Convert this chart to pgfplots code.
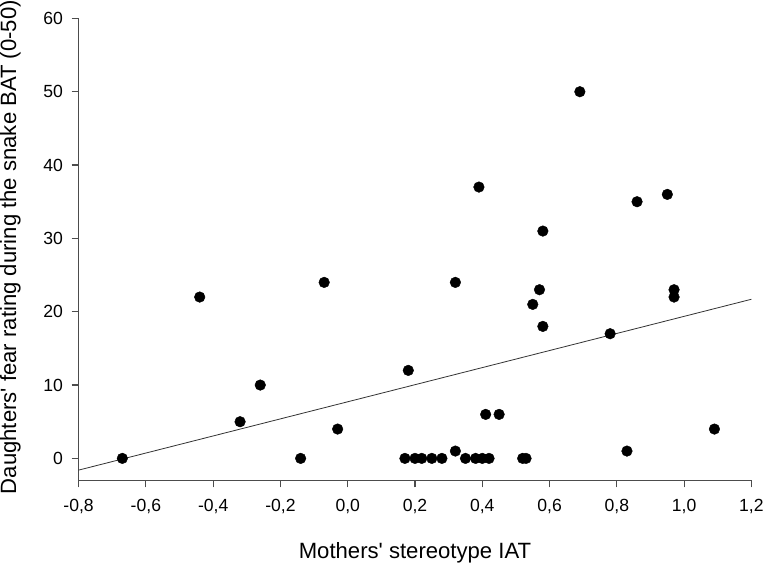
\documentclass[border=0pt]{standalone}
\usepackage{pgfplots}
\pgfplotsset{compat=1.18}
\usepackage{fontspec}
\setmainfont{Liberation Sans}

\pgfplotstableread{
x     y
-0.67 0
-0.44 22
-0.32 5
-0.26 10
-0.14 0
-0.07 24
-0.03 4
0.17  0
0.18  12
0.20  0
0.22  0
0.25  0
0.28  0
0.32  1
0.32  24
0.35  0
0.38  0
0.39  37
0.40  0
0.42  0
0.41  6
0.45  6
0.52  0
0.53  0
0.55  21
0.57  23
0.58  31
0.58  18
0.69  50
0.78  17
0.83  1
0.86  35
0.95  36
0.97  23
0.97  22
1.09  4
}\iatdata

\begin{document}
\begin{tikzpicture}
\begin{axis}[
  scale only axis, width=667bp, height=458bp,
  xmin=-0.8, xmax=1.2, ymin=-3, ymax=60,
  axis lines*=left,
  axis line style={black!70, line width=1.4pt},
  tick style={black!70, line width=1.2pt},
  tick align=outside, major tick length=7bp,
  xtick={-0.8,-0.6,-0.4,-0.2,0,0.2,0.4,0.6,0.8,1.0,1.2},
  xticklabels={{-0,8},{-0,6},{-0,4},{-0,2},{0,0},{0,2},{0,4},{0,6},{0,8},{1,0},{1,2}},
  ytick={0,10,20,30,40,50,60},
  yticklabel style={/pgf/number format/assume math mode=true, xshift=-5bp},
  xticklabel style={yshift=-8bp},
  ticklabel style={font=\fontsize{17.5}{20}\selectfont},
  xlabel={Mothers\textquotesingle\ stereotype IAT},
  ylabel={Daughters\textquotesingle\ fear rating during the snake BAT (0-50)},
  label style={font=\fontsize{22}{25}\selectfont, inner sep=0pt},
  xlabel style={at={(axis description cs:0.5,-0.168)}, anchor=base},
  ylabel style={at={(axis description cs:-0.093,0.505)}, anchor=base},
  clip=false,
]
\addplot[black!80, line width=0.8pt] coordinates {(-0.8,-1.6) (1.2,21.7)};
\addplot[only marks, mark=*, mark size=5.3pt, black] table[x=x, y=y] {\iatdata};
\end{axis}
\end{tikzpicture}
\end{document}
